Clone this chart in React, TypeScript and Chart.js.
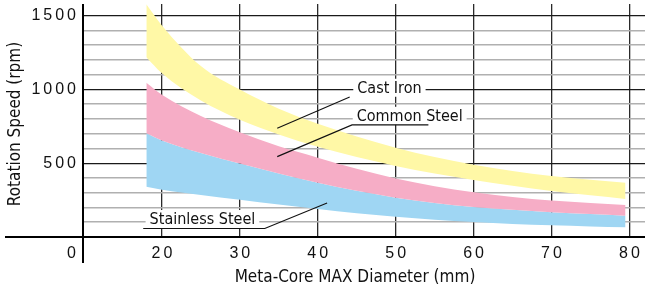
import React, { useEffect, useRef } from "react";
import { Chart, registerables } from "chart.js";

Chart.register(...registerables);

// ---- data ----
const diameters = [18, 20, 25, 30, 35, 40, 45, 50, 55, 60, 65, 70, 75, 79.5];
const castIronHigh = [1578, 1435, 1160, 1000, 870, 768, 682, 606, 542, 490, 448, 414, 388, 368];
const castIronLow = [1219, 1110, 925, 795, 695, 612, 542, 482, 430, 386, 347, 312, 283, 258];
const commonSteelHigh = [1046, 965, 820, 710, 615, 538, 462, 396, 344, 304, 272, 248, 231, 217];
const commonSteelLow = [703, 655, 570, 498, 430, 368, 313, 267, 231, 204, 184, 168, 156, 144];
const stainlessHigh = [703, 655, 570, 498, 430, 368, 313, 267, 231, 204, 184, 168, 156, 144];
const stainlessLow = [341, 320, 285, 252, 220, 190, 161, 137, 117, 102, 89, 80, 72, 66];

const xTickValues = [20, 30, 40, 50, 60, 70, 80];
const yTickLabels = [500, 1000, 1500];
const yGridStep = 100;
const yMax = 1580;
const xMin = 10;
const xMax = 82;

const seriesLabels = ["Cast Iron", "Common Steel", "Stainless Steel"];
const xTitle = "Meta-Core MAX Diameter (mm)";
const yTitle = "Rotation Speed (rpm)";

const YELLOW = "#fff8a6";
const PINK = "#f6adc6";
const BLUE = "#9fd6f3";

const NARROW = '"Liberation Sans Narrow", "DejaVu Sans Condensed", "Roboto Condensed", sans-serif';
const TICKFONT = '"Liberation Sans", Arial, sans-serif';

function pts(ys: number[]) {
  return diameters.map((x, i) => ({ x, y: ys[i] }));
}

// annotation callouts, in data units
const callouts = [
  { text: seriesLabels[0], cx: 49.2, cy: 1012, lines: [[[44.1, 949], [34.8, 737]]] },
  {
    text: seriesLabels[1], cx: 51.8, cy: 822,
    lines: [[[54.2, 760], [44.4, 760], [34.8, 545]]],
  },
  {
    text: seriesLabels[2], cx: 25.2, cy: 122,
    lines: [[[17.6, 58], [33.2, 58], [41.2, 230]]],
  },
];

const overlayPlugin = {
  id: "overlay",
  afterDraw(chart: any) {
    const ctx = chart.ctx as CanvasRenderingContext2D;
    const xs = chart.scales.x;
    const ys = chart.scales.y;
    const area = chart.chartArea;
    ctx.save();

    // callouts: white boxes + text + leader lines
    ctx.font = `16px ${NARROW}`;
    ctx.textBaseline = "middle";
    ctx.textAlign = "center";
    for (const c of callouts) {
      const px = xs.getPixelForValue(c.cx);
      const py = ys.getPixelForValue(c.cy);
      const w = ctx.measureText(c.text).width;
      ctx.fillStyle = "#fff";
      ctx.fillRect(px - w / 2 - 4, py - 9, w + 8, 18);
      ctx.fillStyle = "#111";
      ctx.fillText(c.text, px, py + 1);
      ctx.strokeStyle = "#111";
      ctx.lineWidth = 1.1;
      for (const ln of c.lines) {
        ctx.beginPath();
        ln.forEach((p: number[], i: number) => {
          const X = xs.getPixelForValue(p[0]);
          const Y = ys.getPixelForValue(p[1]);
          if (i === 0) ctx.moveTo(X, Y);
          else ctx.lineTo(X, Y);
        });
        ctx.stroke();
      }
    }

    // axis lines
    const y0 = ys.getPixelForValue(0);
    ctx.strokeStyle = "#000";
    ctx.lineWidth = 2;
    ctx.beginPath();
    ctx.moveTo(area.left - 1, area.top);
    ctx.lineTo(area.left - 1, y0 + 26);
    ctx.moveTo(5, y0);
    ctx.lineTo(area.right, y0);
    ctx.stroke();

    // tick labels
    ctx.fillStyle = "#111";
    ctx.font = `16px ${TICKFONT}`;
    (ctx as any).letterSpacing = "3px";
    ctx.textBaseline = "middle";
    ctx.textAlign = "right";
    for (const v of yTickLabels) {
      ctx.fillText(String(v), area.left - 5, ys.getPixelForValue(v));
    }
    const labelY = y0 + 17;
    ctx.fillText("0", area.left - 5, labelY);
    ctx.textAlign = "center";
    for (const v of xTickValues) {
      ctx.fillText(String(v), xs.getPixelForValue(v) + 1.5, labelY);
    }
    (ctx as any).letterSpacing = "0px";

    // axis titles
    ctx.font = `17px ${NARROW}`;
    ctx.fillStyle = "#111";
    ctx.textAlign = "center";
    ctx.fillText(xTitle, 355, y0 + 41);
    ctx.translate(16, 124);
    ctx.rotate(-Math.PI / 2);
    ctx.fillText(yTitle, 0, 0);
    ctx.restore();
  },
};

export default function App() {
  const ref = useRef<HTMLCanvasElement>(null);
  useEffect(() => {
    if (!ref.current) return;
    const mk = (ys: number[], fill: any, color: string) => ({
      data: pts(ys),
      fill,
      backgroundColor: color,
      borderWidth: 0,
      borderColor: "rgba(0,0,0,0)",
      pointRadius: 0,
      cubicInterpolationMode: "monotone" as const,
    });
    const chart = new Chart(ref.current, {
      type: "line",
      data: {
        datasets: [
          mk(castIronHigh, "+1", YELLOW),
          mk(castIronLow, false, YELLOW),
          mk(commonSteelHigh, "+1", PINK),
          mk(commonSteelLow, false, PINK),
          mk(stainlessHigh, "+1", BLUE),
          mk(stainlessLow, false, BLUE),
        ],
      },
      options: {
        animation: false,
        responsive: false,
        devicePixelRatio: 1,
        layout: { padding: { left: 84, right: 0, top: 4, bottom: 54 } },
        plugins: { legend: { display: false }, tooltip: { enabled: false } },
        scales: {
          x: {
            type: "linear",
            min: xMin,
            max: xMax,
            z: 1,
            afterBuildTicks: (s: any) => {
              s.ticks = xTickValues.map((v) => ({ value: v }));
            },
            ticks: { display: false },
            border: { display: false },
            grid: { color: "#2a2a2a", lineWidth: 1.3, drawTicks: false },
          },
          y: {
            type: "linear",
            min: 0,
            max: yMax,
            z: 1,
            afterBuildTicks: (s: any) => {
              const t = [];
              for (let v = yGridStep; v <= 1500; v += yGridStep) t.push({ value: v });
              s.ticks = t;
            },
            ticks: { display: false },
            border: { display: false },
            grid: {
              drawTicks: false,
              color: (c: any) => (c.tick && c.tick.value % 500 === 0 ? "#1a1a1a" : "#b0b0b0"),
              lineWidth: (c: any) => (c.tick && c.tick.value % 500 === 0 ? 1.3 : 1.6),
            },
          },
        },
      },
      plugins: [overlayPlugin],
    });
    return () => chart.destroy();
  }, []);
  return (
    <div style={{ position: "fixed", left: 0, top: 0, width: 645, height: 291, background: "#fff" }}>
      <canvas ref={ref} width={645} height={291} style={{ display: "block" }} />
    </div>
  );
}
